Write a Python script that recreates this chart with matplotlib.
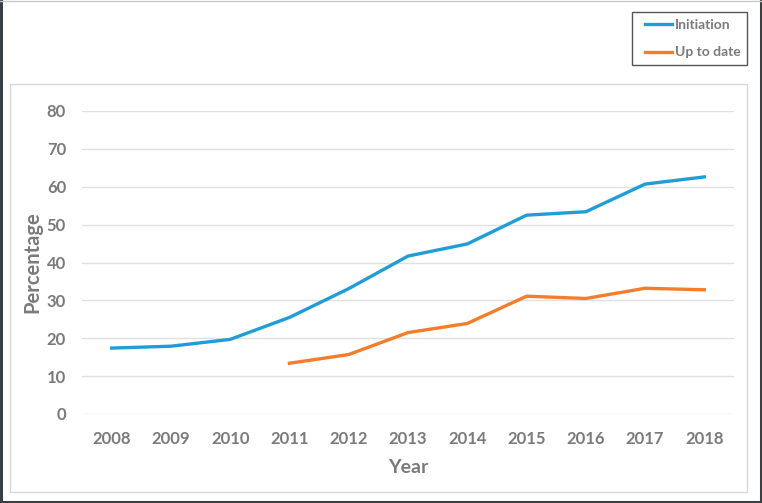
import matplotlib
matplotlib.use("Agg")
import matplotlib.pyplot as plt
from matplotlib.patches import Rectangle
from matplotlib.lines import Line2D

years = [2008, 2009, 2010, 2011, 2012, 2013, 2014, 2015, 2016, 2017, 2018]
initiation = [17.4, 17.9, 19.7, 25.5, 33.1, 41.7, 44.9, 52.5, 53.4, 60.7, 62.6]
up_years = [2011, 2012, 2013, 2014, 2015, 2016, 2017, 2018]
up_to_date = [13.4, 15.7, 21.5, 23.9, 31.1, 30.5, 33.2, 32.8]

plt.rcParams['font.family'] = ['Lato', 'DejaVu Sans']
grey = '#7a7a7a'

fig = plt.figure(figsize=(7.62, 5.03), dpi=100)
W, H = 762, 503


def px_box(x0, y0, x1, y1, **kw):
    # rectangle given in image pixels (top-left origin)
    return Rectangle((x0 / W, 1 - y1 / H), (x1 - x0) / W, (y1 - y0) / H,
                     transform=fig.transFigure, fill=False, **kw)


# outer frame: dark on left, right, bottom; light on top
dark = '#3a3f44'
fig.lines.append(Line2D([1 / W, 1 / W], [0, 1], transform=fig.transFigure, color=dark, lw=2.2))
fig.lines.append(Line2D([1 - 1 / W, 1 - 1 / W], [0, 1], transform=fig.transFigure, color=dark, lw=2.2))
fig.lines.append(Line2D([0, 1], [1 / H, 1 / H], transform=fig.transFigure, color=dark, lw=2.2))
fig.lines.append(Line2D([0, 1], [1 - 0.5 / H, 1 - 0.5 / H], transform=fig.transFigure, color='#c8c8c8', lw=1))

# chart-area frame and legend frame
fig.patches.append(px_box(10, 84, 747, 492, edgecolor='#d9d9d9', linewidth=1))
fig.patches.append(px_box(632, 12, 747, 65, edgecolor='#555555', linewidth=1))

ax = fig.add_axes([82 / W, 89 / H, 652 / W, 303 / H])
ax.plot(years, initiation, color='#1f9dd9', linewidth=2.4, label='Initiation')
ax.plot(up_years, up_to_date, color='#f47d2a', linewidth=2.4, label='Up to date')

ax.set_xlim(2007.5, 2018.5)
ax.set_ylim(0, 80)
ax.set_xticks(years)
ax.set_yticks(range(0, 81, 10))
ax.grid(axis='y', color='#e0e0e0', linewidth=1)
ax.set_axisbelow(True)
for s in ax.spines.values():
    s.set_visible(False)
ax.tick_params(length=0, labelsize=12, labelcolor=grey)
ax.tick_params(axis='x', pad=12.5)
ax.tick_params(axis='y', pad=11.5)
for lab in ax.get_xticklabels() + ax.get_yticklabels():
    lab.set_fontweight('bold')

ax.set_xlabel('Year', fontsize=14, fontweight='bold', color=grey)
ax.xaxis.set_label_coords(0.5, -(459 - 414) / 303)
ax.set_ylabel('Percentage', fontsize=14.5, fontweight='bold', color=grey)
ax.yaxis.set_label_coords(-(82 - 42) / 652, 0.5)

leg = fig.legend(loc='center left', bbox_to_anchor=(645 / W, 1 - 38.5 / H), frameon=False,
                 fontsize=10, handlelength=1.95, handletextpad=0.2, labelspacing=1.15,
                 borderpad=0, borderaxespad=0)
for t in leg.get_texts():
    t.set_color(grey)
    t.set_fontweight('bold')

fig.savefig('out.png', dpi=100)
